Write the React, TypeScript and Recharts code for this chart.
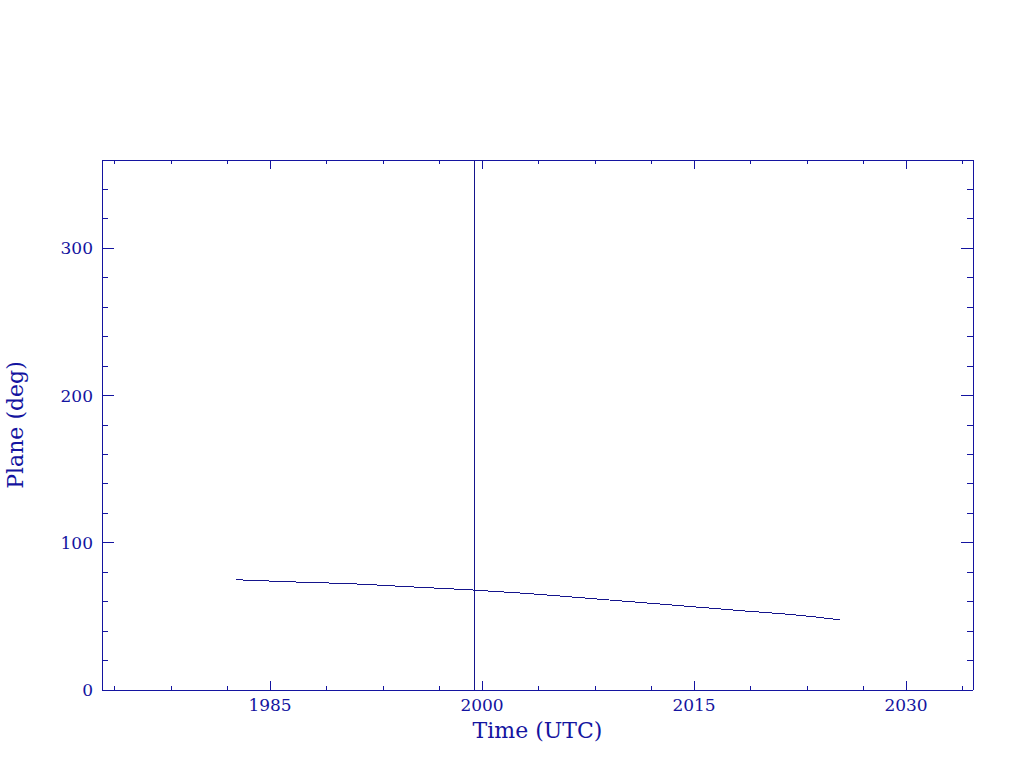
import { Label, Line, LineChart, ReferenceLine, XAxis, YAxis } from "recharts"

const INK = "#1414a0"
const TRACE = "#15158c"
const FONT = "'DejaVu Serif', serif"

// time (decimal year) vs plane angle (deg)
const YEARS = [1982.6, 1986.7, 1990.9, 1995.1, 1999.2, 2003.3, 2008.4, 2012.6, 2018.3, 2022.5, 2025.3]
const PLANE = [74.9, 73.4, 72.1, 70.0, 68.0, 65.5, 61.6, 58.4, 53.9, 50.7, 47.7]

const EPOCH = 1999.5

const X_MAJOR = [1985, 2000, 2015, 2030]
const X_MINOR = [1974, 1978, 1982, 1989, 1993, 1997, 2004, 2008, 2012, 2019, 2023, 2027, 2034]
const Y_MAJOR = [0, 100, 200, 300]
const Y_MINOR = [20, 40, 60, 80, 120, 140, 160, 180, 220, 240, 260, 280, 320, 340]

const X_DOMAIN = [1973.11, 2034.74]
const Y_DOMAIN = [0, 360]

const data = YEARS.map((year, i) => ({ year, plane: PLANE[i] }))
const xTicks = [...X_MAJOR, ...X_MINOR].sort((a, b) => a - b)
const yTicks = [...Y_MAJOR, ...Y_MINOR].sort((a, b) => a - b)

function XTick(props: any) {
  const { x, y, payload, side } = props
  const major = X_MAJOR.includes(payload.value)
  const len = major ? 9 : 4
  const dir = side === "top" ? 1 : -1
  return (
    <g>
      <line x1={x} x2={x} y1={y} y2={y + dir * len} stroke={INK} strokeWidth={1} />
      {major && side === "bottom" && (
        <text x={x} y={y + 21} textAnchor="middle" fill={INK} fontSize={17} fontFamily={FONT}>
          {payload.value}
        </text>
      )}
    </g>
  )
}

function YTick(props: any) {
  const { x, y, payload, side } = props
  const major = Y_MAJOR.includes(payload.value)
  const len = major ? 12 : 6
  const dir = side === "left" ? 1 : -1
  return (
    <g>
      <line x1={x} x2={x + dir * len} y1={y} y2={y} stroke={INK} strokeWidth={1} />
      {major && side === "left" && (
        <text x={x - 9} y={y + 6} textAnchor="end" fill={INK} fontSize={17} fontFamily={FONT}>
          {payload.value}
        </text>
      )}
    </g>
  )
}

export default function App() {
  return (
    <div
      style={{
        position: "absolute",
        left: 0,
        top: 0,
        width: 1024,
        height: 768,
        background: "#fff",
        shapeRendering: "crispEdges",
      }}
    >
      <LineChart width={1024} height={768} data={data} margin={{ top: 150, right: 41, bottom: 48, left: 42 }}>
        <XAxis
          xAxisId="b"
          dataKey="year"
          type="number"
          domain={X_DOMAIN}
          allowDataOverflow
          ticks={xTicks}
          interval={0}
          tickSize={0}
          tickMargin={0}
          tickLine={false}
          axisLine={{ stroke: INK }}
          height={30}
          tick={(p: any) => <XTick {...p} side="bottom" />}
        >
          <Label
            value="Time (UTC)"
            position="bottom"
            offset={2}
            fill={INK}
            fontSize={22}
            fontFamily={FONT}
          />
        </XAxis>
        <XAxis
          xAxisId="t"
          orientation="top"
          dataKey="year"
          type="number"
          domain={X_DOMAIN}
          allowDataOverflow
          ticks={xTicks}
          interval={0}
          tickSize={0}
          tickMargin={0}
          tickLine={false}
          axisLine={{ stroke: INK }}
          height={10}
          tick={(p: any) => <XTick {...p} side="top" />}
        />
        <YAxis
          yAxisId="l"
          type="number"
          domain={Y_DOMAIN}
          allowDataOverflow
          ticks={yTicks}
          interval={0}
          tickSize={0}
          tickMargin={0}
          tickLine={false}
          axisLine={{ stroke: INK }}
          width={60}
          tick={(p: any) => <YTick {...p} side="left" />}
        >
          <Label
            value="Plane (deg)"
            position="left"
            offset={27}
            angle={-90}
            fill={INK}
            fontSize={22}
            fontFamily={FONT}
            style={{ textAnchor: "middle" }}
          />
        </YAxis>
        <YAxis
          yAxisId="r"
          orientation="right"
          type="number"
          domain={Y_DOMAIN}
          allowDataOverflow
          ticks={yTicks}
          interval={0}
          tickSize={0}
          tickMargin={0}
          tickLine={false}
          axisLine={{ stroke: INK }}
          width={10}
          tick={(p: any) => <YTick {...p} side="right" />}
        />
        <ReferenceLine xAxisId="b" yAxisId="l" x={EPOCH} stroke={TRACE} strokeWidth={1} />
        <Line
          xAxisId="b"
          yAxisId="l"
          dataKey="plane"
          type="monotone"
          stroke={TRACE}
          strokeWidth={1}
          dot={false}
          activeDot={false}
          isAnimationActive={false}
        />
      </LineChart>
    </div>
  )
}
